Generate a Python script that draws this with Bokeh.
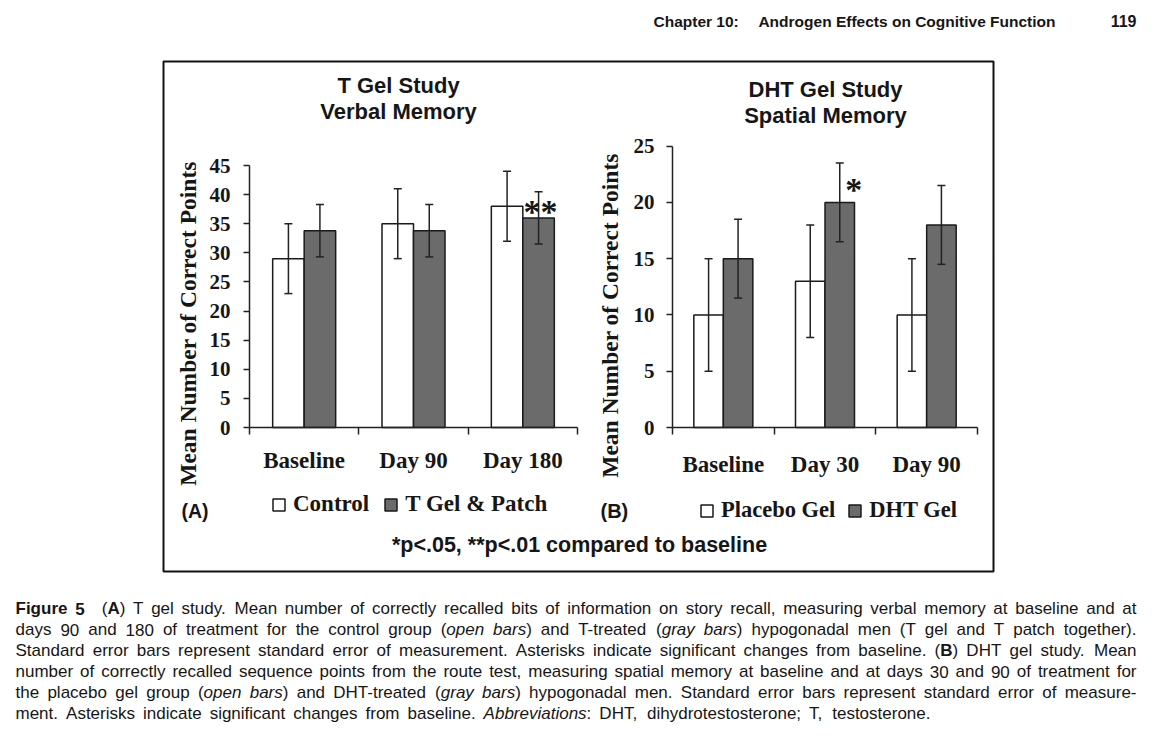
import math
import numpy as np
from bokeh.plotting import figure
from bokeh.models import (Range1d, LinearAxis, FixedTicker, Whisker, TeeHead,
                          ColumnDataSource, Legend, LegendItem)
from bokeh.core.properties import value
from bokeh.embed import file_html
from bokeh.resources import INLINE

# ---------------- data ----------------
cats_a = ["Baseline", "Day 90", "Day 180"]
series_a = ["Control", "T Gel & Patch"]
control_mean = [29.0, 35.0, 38.0]
control_se = [6.0, 6.0, 6.0]
tgel_mean = [33.8, 33.8, 36.0]
tgel_se = [4.5, 4.5, 4.5]
ticks_a = [0, 5, 10, 15, 20, 25, 30, 35, 40, 45]

cats_b = ["Baseline", "Day 30", "Day 90"]
series_b = ["Placebo Gel", "DHT Gel"]
placebo_mean = [10.0, 13.0, 10.0]
placebo_se = [5.0, 5.0, 5.0]
dht_mean = [15.0, 20.0, 18.0]
dht_se = [3.5, 3.5, 3.5]
ticks_b = [0, 5, 10, 15, 20, 25]

caption_lines = [
    "**Figure 5**   (**A**) T gel study. Mean number of correctly recalled bits of information on story recall, measuring verbal memory at baseline and at",
    "days 90 and 180 of treatment for the control group (_open bars_) and T-treated (_gray bars_) hypogonadal men (T gel and T patch together).",
    "Standard error bars represent standard error of measurement. Asterisks indicate significant changes from baseline. (**B**) DHT gel study. Mean",
    "number of correctly recalled sequence points from the route test, measuring spatial memory at baseline and at days 30 and 90 of treatment for",
    "the placebo gel group (_open bars_) and DHT-treated (_gray bars_) hypogonadal men. Standard error bars represent standard error of measure-",
    "ment. Asterisks indicate significant changes from baseline. _Abbreviations_: DHT, dihydrotestosterone; T, testosterone.",
]

# ---------------- page frame ----------------
W, H = 1140, 724
OX, OY = 1, 0          # where the plot lands on screen
X0, X1, Y0, Y1 = OX, OX + W, OY, OY + H

p = figure(width=W, height=H, min_border=0,
           x_range=Range1d(X0, X1), y_range=Range1d(Y1, Y0),
           x_axis_location=None, y_axis_location=None,
           toolbar_location=None, output_backend="svg",
           outline_line_color=None, background_fill_color="white",
           border_fill_color="white")
p.grid.visible = False

INK = "#161616"
SANS = "Liberation Sans"
SERIF = "Liberation Serif"


def txt(x, y, s, font, size, style="bold", align="left", angle=0.0):
    p.text(x=[x], y=[y], text=[s], text_font=value(font), text_font_size=f"{size}px",
           text_font_style=style, text_align=align, text_baseline="alphabetic",
           angle=angle, text_color=INK)


def lin(pix, v0, p0, v1, p1):
    return v0 + (pix - p0) * (v1 - v0) / (p1 - p0)


def chart(key, cats, names, m1, s1, m2, s2, ticks, ax_left, ax_right, ax_zero, ax_top,
          bar_px, cat_standoff, tick_standoff, leg_x, leg_y, leg_font, leg_spacing,
          star_idx, star_text, star_dx, star_dy):
    n = len(cats)
    ymax = ticks[-1]
    xn, yn = "x" + key, "y" + key
    p.extra_x_ranges[xn] = Range1d(lin(X0, 0.5, ax_left, n + 0.5, ax_right),
                                   lin(X1, 0.5, ax_left, n + 0.5, ax_right))
    p.extra_y_ranges[yn] = Range1d(lin(Y1, 0, ax_zero, ymax, ax_top),
                                   lin(Y0, 0, ax_zero, ymax, ax_top))
    bw = bar_px / ((ax_right - ax_left) / n)
    xs = np.arange(1, n + 1, dtype=float)
    rends = []
    for off, mean, se, fill in ((-bw / 2, m1, s1, "white"), (bw / 2, m2, s2, "#6b6b6b")):
        mean = np.array(mean)
        se = np.array(se)
        src = ColumnDataSource(dict(x=xs + off, top=mean, lo=mean - se, hi=mean + se))
        r = p.vbar(x="x", top="top", bottom=0, width=bw, source=src,
                   x_range_name=xn, y_range_name=yn, fill_color=fill,
                   line_color="#1a1a1a", line_width=1.5)
        rends.append(r)
        wk = Whisker(base="x", upper="hi", lower="lo", source=src, dimension="height",
                     x_range_name=xn, y_range_name=yn, line_color="#222222", line_width=1.5,
                     upper_head=TeeHead(size=8, line_color="#222222", line_width=1.5),
                     lower_head=TeeHead(size=8, line_color="#222222", line_width=1.5),
                     level="annotation")
        p.add_layout(wk)

    yax = LinearAxis(y_range_name=yn, fixed_location=ax_left, bounds=(0, ymax),
                     ticker=FixedTicker(ticks=ticks, minor_ticks=[]),
                     axis_line_color="#222222", axis_line_width=1.5,
                     major_tick_line_color="#222222", major_tick_line_width=1.5,
                     major_tick_out=6, major_tick_in=0, minor_tick_out=0, minor_tick_in=0,
                     major_label_standoff=tick_standoff,
                     major_label_text_font=SERIF, major_label_text_font_style="bold",
                     major_label_text_font_size="21px", major_label_text_color=INK)
    p.add_layout(yax, "left")

    xax = LinearAxis(x_range_name=xn, fixed_location=ax_zero, bounds=(0.5, n + 0.5),
                     ticker=FixedTicker(ticks=list(range(1, n + 1)),
                                        minor_ticks=[i + 0.5 for i in range(n + 1)]),
                     major_label_overrides={i + 1: c for i, c in enumerate(cats)},
                     axis_line_color="#222222", axis_line_width=1.5,
                     major_tick_line_color=None, major_tick_out=0, major_tick_in=0,
                     minor_tick_line_color="#222222", minor_tick_line_width=1.5,
                     minor_tick_out=7, minor_tick_in=0,
                     major_label_standoff=cat_standoff,
                     major_label_text_font=SERIF, major_label_text_font_style="bold",
                     major_label_text_font_size="23px", major_label_text_color=INK)
    p.add_layout(xax, "below")

    leg = Legend(items=[LegendItem(label=names[0], renderers=[rends[0]]),
                        LegendItem(label=names[1], renderers=[rends[1]])],
                 location=(leg_x - X0, Y1 - leg_y), orientation="horizontal",
                 padding=0, margin=0, spacing=leg_spacing, label_standoff=7,
                 glyph_width=15, glyph_height=15, label_height=20,
                 label_text_font=SERIF, label_text_font_style="bold",
                 label_text_font_size=f"{leg_font}px", label_text_color=INK,
                 border_line_color=None, background_fill_alpha=0)
    p.add_layout(leg)

    p.text(x=[xs[star_idx] + bw / 2], y=[m2[star_idx]], text=[star_text],
           x_range_name=xn, y_range_name=yn, x_offset=star_dx, y_offset=star_dy,
           text_font=value(SERIF), text_font_style="bold", text_font_size="34px",
           text_align="center", text_baseline="alphabetic", text_color=INK)


# outer box
p.quad(left=[164], right=[994], top=[61], bottom=[571], fill_color=None,
       line_color="#111111", line_width=2)

chart("a", cats_a, series_a, control_mean, control_se, tgel_mean, tgel_se, ticks_a,
      250, 578, 427, 165, 31.5, 13, 13, 272, 517, 23, 14, 2, "**", 2, -6)
chart("b", cats_b, series_b, placebo_mean, placebo_se, dht_mean, dht_se, ticks_b,
      673, 978, 427, 145.7, 29.5, 17, 12, 700, 523, 22.5, 12, 1, "*", 14, -13)

# titles (y = visual centre of capitals)
txt(399, 84.5, "T Gel Study", SANS, 22, align="center")
txt(399, 110.5, "Verbal Memory", SANS, 22, align="center")
txt(826, 88.5, "DHT Gel Study", SANS, 22, align="center")
txt(826, 114.5, "Spatial Memory", SANS, 22, align="center")

# y axis titles
txt(188, 323, "Mean Number of Correct Points", SERIF, 23.5, align="center", angle=math.pi / 2)
txt(610, 315, "Mean Number of Correct Points", SERIF, 23.5, align="center", angle=math.pi / 2)

# panel letters and footnote
txt(182, 510.5, "(A)", SANS, 19.5)
txt(601, 510, "(B)", SANS, 20)
txt(580, 544.5, "*p<.05, **p<.01 compared to baseline", SANS, 21.5, align="center")

# running header
txt(654, 20.5, "Chapter 10:", SANS, 15.5)
txt(1056, 20.5, "Androgen Effects on Cognitive Function", SANS, 15.5, align="right")
txt(1137, 20.5, "119", SANS, 16, align="right")

# ---------------- caption (justified, Arial metrics) ----------------
_U = "ABCDEFGHIJKLMNOPQRSTUVWXYZ"
_L = "abcdefghijklmnopqrstuvwxyz"
REG = dict(zip(_U, [667, 667, 722, 722, 667, 611, 778, 722, 278, 500, 667, 556, 833, 722, 778, 667, 778, 722, 667, 611, 722, 667, 944, 667, 667, 611]))
REG.update(zip(_L, [556, 556, 500, 556, 556, 278, 556, 556, 222, 222, 500, 222, 833, 556, 556, 556, 556, 333, 500, 278, 556, 500, 722, 500, 500, 500]))
REG.update({" ": 278, "(": 333, ")": 333, ",": 278, ".": 278, ":": 278, ";": 278, "-": 333})
REG.update({d: 556 for d in "0123456789"})
BLD = dict(zip(_U, [722, 722, 722, 722, 667, 611, 778, 722, 278, 556, 722, 611, 833, 722, 778, 667, 778, 722, 667, 611, 722, 667, 944, 667, 667, 611]))
BLD.update(zip(_L, [556, 611, 556, 611, 556, 333, 611, 611, 278, 278, 556, 278, 889, 611, 611, 611, 611, 389, 556, 333, 611, 556, 778, 556, 556, 500]))
BLD.update({" ": 278, "(": 333, ")": 333, ",": 278, ".": 278, ":": 333, ";": 333, "-": 333})
BLD.update({d: 556 for d in "0123456789"})


def cw(ch, st, fs):
    tab = BLD if st == "bold" else REG
    return tab.get(ch, 556) * fs / 1000.0


def parse(line):
    out, bold, ital, i = [], False, False, 0
    while i < len(line):
        if line.startswith("**", i):
            bold = not bold
            i += 2
            continue
        if line[i] == "_":
            ital = not ital
            i += 1
            continue
        out.append((line[i], "bold" if bold else ("italic" if ital else "normal")))
        i += 1
    return out


def split_words(line):
    words, cur, sp = [], [], 0
    for ch, st in parse(line):
        if ch == " ":
            if cur:
                words.append((sp, cur))
                cur, sp = [], 0
            sp += 1
        else:
            cur.append((ch, st))
    if cur:
        words.append((sp, cur))
    return words


def caption(lines, xl, xr, y0, step, fs):
    acc = {"normal": ([], [], []), "bold": ([], [], []), "italic": ([], [], [])}
    space = cw(" ", "normal", fs)
    info = []
    for line in lines:
        words = split_words(line)
        total = sum(sum(cw(c, s, fs) for c, s in w) for _, w in words)
        total += sum(k for k, _ in words) * space
        info.append((words, (xr - xl - total) / max(len(words) - 1, 1)))
    extras = [e for _, e in info[:-1]]
    mean_extra = sum(extras) / len(extras)
    for li, (words, extra) in enumerate(info):
        if li == len(info) - 1:
            extra = mean_extra
        y = y0 + step * li
        x = xl
        for wi, (k, w) in enumerate(words):
            if wi > 0:
                x += k * space + extra
            segs = []
            for c, s in w:
                if segs and segs[-1][1] == s:
                    segs[-1][0] += c
                else:
                    segs.append([c, s])
            for t, s in segs:
                acc[s][0].append(x)
                acc[s][1].append(y)
                acc[s][2].append(t)
                x += sum(cw(c, s, fs) for c in t)
    for st, (xs, ys, ts) in acc.items():
        if ts:
            p.text(x=xs, y=ys, text=ts, text_font=value(SANS), text_font_size=f"{fs}px",
                   text_font_style=st, text_align="left", text_baseline="alphabetic",
                   text_color=INK)


caption(caption_lines, 16, 1137, 608.3, 20.9, 17)

open("out.html", "w").write(file_html(p, INLINE))
